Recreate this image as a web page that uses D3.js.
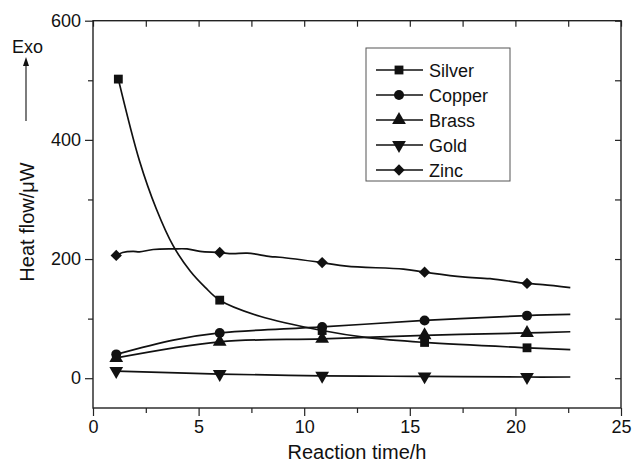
<!DOCTYPE html>
<html><head><meta charset="utf-8">
<script src="https://cdn.jsdelivr.net/npm/d3@7"></script>
<style>
body{margin:0;background:#fff;}
text{font-family:"Liberation Sans",Arial,Helvetica,sans-serif;fill:#111;}
</style></head>
<body><svg id="c" width="632" height="465"></svg>
<script>
// ---- data ----
const seriesNames = ["Silver","Copper","Brass","Gold","Zinc"];
const markerTimes = [1.1, 6.0, 10.85, 15.7, 20.55];
const silverT = [1.2,2.2,3.0,3.8,4.6,5.3,6.0,7.9,10.85,13,15.7,20.55,22.6];
const silverV = [502,365,284,222,180,153,131,104,80,68,60,51,48];
const copperT = [1.1,3.8,6.0,10.85,15.7,20.55,22.6];
const copperV = [40,64,76,86,97,105,107];
const brassT = [1.1,6.0,10.85,15.7,20.55,22.6];
const brassV = [34,61,66,72,76,78];
const goldT = [1.1,6.0,10.85,15.7,20.55,22.6];
const goldV = [12,7,4,3,2,2];
const zincT = [1.1,1.4,1.9,2.2,2.85,3.8,4.45,5.07,6.0,6.6,7.3,8.4,8.85,10.85,12,14.7,15.7,17.5,18.8,20.55,21.3,22.6];
const zincV = [206,211,213,212,216,217,217,213,211,209,210,204,203,194,188,183,178,170,167,159,157,152];
const xMajorTicks = [0,5,10,15,20,25];
const xMinorTicks = [2.5,7.5,12.5,17.5,22.5];
const yMajorTicks = [0,200,400,600];
const yMinorTicks = [100,300,500];

const seriesT = [silverT, copperT, brassT, goldT, zincT];
const seriesV = [silverV, copperV, brassV, goldV, zincV];
const symbols = [d3.symbolSquare, d3.symbolCircle, d3.symbolTriangle, d3.symbolTriangle, d3.symbolSquare];
const symSizes = [78, 78, 82, 82, 64];
const symRot = [0,0,0,180,45];

const svg = d3.select("#c");
const L=93, R=621, T=20.7, B=408;
const x = d3.scaleLinear().domain([0,25]).range([L,R]);
const y = d3.scaleLinear().domain([-50,600]).range([B,T]);
const axisColor = "#222";

function styleAxis(g){
  g.select(".domain").remove();
  g.selectAll(".tick line").attr("stroke",axisColor).attr("stroke-width",1.2);
  g.selectAll(".tick text").style("font-size","18px").attr("fill","#111");
}
// bottom
svg.append("g").attr("transform",`translate(0,${B})`)
  .call(d3.axisBottom(x).tickValues(xMajorTicks).tickSize(8).tickPadding(4).tickFormat(d3.format("d")))
  .call(styleAxis);
svg.append("g").attr("transform",`translate(0,${B})`)
  .call(d3.axisBottom(x).tickValues(xMinorTicks).tickSize(5).tickFormat(""))
  .call(styleAxis);
// top (inward)
svg.append("g").attr("transform",`translate(0,${T})`)
  .call(d3.axisBottom(x).tickValues(xMajorTicks.concat(xMinorTicks)).tickSize(6).tickFormat(""))
  .call(styleAxis);
// left
svg.append("g").attr("transform",`translate(${L},0)`)
  .call(d3.axisLeft(y).tickValues(yMajorTicks).tickSize(8).tickPadding(4).tickFormat(d3.format("d")))
  .call(styleAxis);
svg.append("g").attr("transform",`translate(${L},0)`)
  .call(d3.axisLeft(y).tickValues(yMinorTicks).tickSize(5).tickFormat(""))
  .call(styleAxis);
// right (inward)
svg.append("g").attr("transform",`translate(${R},0)`)
  .call(d3.axisLeft(y).tickValues(yMajorTicks.concat(yMinorTicks)).tickSize(6).tickFormat(""))
  .call(styleAxis);
// frame
svg.append("rect").attr("x",L).attr("y",T).attr("width",R-L).attr("height",B-T)
  .attr("fill","none").attr("stroke",axisColor).attr("stroke-width",1.4);

// lines
const line = d3.line().x(d=>x(d[0])).y(d=>y(d[1])).curve(d3.curveCatmullRom.alpha(0.5));
seriesNames.forEach((name,i)=>{
  const pts = seriesT[i].map((t,j)=>[t, seriesV[i][j]]);
  svg.append("path").datum(pts).attr("d",line)
    .attr("fill","none").attr("stroke","#111").attr("stroke-width",1.7);
  const mk = pts.filter((p,j)=> j===0 || markerTimes.some(m=>Math.abs(m-p[0])<0.01));
  svg.append("g").selectAll("path").data(mk).join("path")
    .attr("d", d3.symbol().type(symbols[i]).size(symSizes[i]))
    .attr("transform", d=>`translate(${x(d[0])},${y(d[1])}) rotate(${symRot[i]})`)
    .attr("fill","#111");
});

// legend
const lg = svg.append("g");
lg.append("rect").attr("x",366).attr("y",48).attr("width",144).attr("height",133)
  .attr("fill","#fff").attr("stroke","#555").attr("stroke-width",1);
seriesNames.forEach((name,i)=>{
  const yy = 70 + i*25;
  lg.append("line").attr("x1",376).attr("x2",423).attr("y1",yy).attr("y2",yy)
    .attr("stroke","#111").attr("stroke-width",1.7);
  lg.append("path").attr("d", d3.symbol().type(symbols[i]).size(symSizes[i]))
    .attr("transform",`translate(399,${yy}) rotate(${symRot[i]})`).attr("fill","#111");
  lg.append("text").attr("x",429).attr("y",yy+6.5).style("font-size","18px").text(name);
});

// axis titles
svg.append("text").attr("x",(L+R)/2).attr("y",459).attr("text-anchor","middle")
  .style("font-size","20px").text("Reaction time/h");
svg.append("text").attr("transform","translate(34,222) rotate(-90)").attr("text-anchor","middle")
  .style("font-size","20px").text("Heat flow/\u03bcW");
// Exo arrow
svg.append("text").attr("x",12).attr("y",53).style("font-size","18px").text("Exo");
svg.append("line").attr("x1",26).attr("x2",26).attr("y1",121).attr("y2",64)
  .attr("stroke","#111").attr("stroke-width",1.1);
svg.append("path").attr("d","M26,57 L23,66 L29,66 Z").attr("fill","#111");
</script></body></html>
